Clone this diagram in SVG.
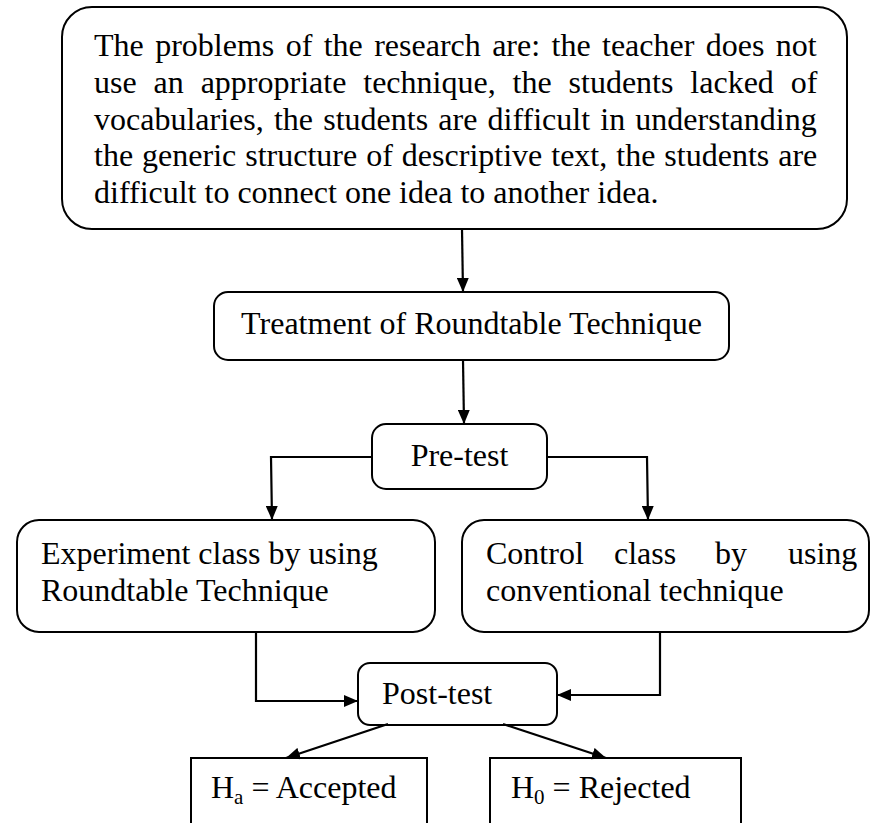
<svg xmlns="http://www.w3.org/2000/svg" width="870" height="823" viewBox="0 0 870 823">
<defs>
<style>
.box{fill:#fff;stroke:#000;stroke-width:2}
.t{font-family:"Liberation Serif","Times New Roman",serif;font-size:32px;fill:#000}
.c{fill:none;stroke:#000;stroke-width:2.2}
.sub{font-size:21px}
</style>
<marker id="ah" viewBox="0 0 14 12" refX="14" refY="6" markerWidth="14" markerHeight="12" orient="auto" markerUnits="userSpaceOnUse">
<path d="M0,0 L14,6 L0,12 z" fill="#000"/>
</marker>
</defs>
<rect width="870" height="823" fill="#fff"/>
<g id="problems">
<rect class="box" x="62" y="7" width="785" height="222" rx="30" ry="30"/>
<text class="t" x="94" y="56" word-spacing="3.4">The problems of the research are: the teacher does not</text>
<text class="t" x="94" y="93" word-spacing="8.9">use an appropriate technique, the students lacked of</text>
<text class="t" x="94" y="130" word-spacing="2.2">vocabularies, the students are difficult in understanding</text>
<text class="t" x="94" y="166" word-spacing="1">the generic structure of descriptive text, the students are</text>
<text class="t" x="94" y="203">difficult to connect one idea to another idea.</text>
</g>
<g id="treatment">
<rect class="box" x="214" y="292" width="515" height="68" rx="14" ry="14"/>
<text class="t" x="471.5" y="334" text-anchor="middle">Treatment of Roundtable Technique</text>
</g>
<g id="pretest">
<rect class="box" x="372" y="424" width="175" height="65" rx="14" ry="14"/>
<text class="t" x="459.5" y="466" text-anchor="middle">Pre-test</text>
</g>
<g id="experiment">
<rect class="box" x="17" y="520" width="418" height="112" rx="22" ry="22"/>
<text class="t" x="41" y="564">Experiment class by using</text>
<text class="t" x="41" y="601">Roundtable Technique</text>
</g>
<g id="control">
<rect class="box" x="462" y="520" width="407" height="112" rx="22" ry="22"/>
<text class="t" x="486" y="564"><tspan x="486">Control</tspan><tspan x="614">class</tspan><tspan x="715">by</tspan><tspan x="788">using</tspan></text>
<text class="t" x="486" y="601">conventional technique</text>
</g>
<g id="posttest">
<rect class="box" x="358" y="663" width="199" height="62" rx="12" ry="12"/>
<text class="t" x="382" y="704">Post-test</text>
</g>
<g id="ha">
<rect class="box" x="191" y="758" width="236" height="80"/>
<text class="t" x="211" y="798">H<tspan class="sub" dy="6">a</tspan><tspan dy="-6"> = Accepted</tspan></text>
</g>
<g id="h0">
<rect class="box" x="490" y="758" width="251" height="80"/>
<text class="t" x="511" y="798">H<tspan class="sub" dy="6">0</tspan><tspan dy="-6"> = Rejected</tspan></text>
</g>
<g id="connectors">
<path class="c" d="M462,229 L463,292" marker-end="url(#ah)"/>
<path class="c" d="M463,360 L464,424" marker-end="url(#ah)"/>
<path class="c" d="M372,457 L271,457 L272,520" marker-end="url(#ah)"/>
<path class="c" d="M547,457 L647,457 L648,520" marker-end="url(#ah)"/>
<path class="c" d="M256,632 L256,701 L358,701" marker-end="url(#ah)"/>
<path class="c" d="M660,632 L660,695 L557,695" marker-end="url(#ah)"/>
<path class="c" d="M388,724 L286,758" marker-end="url(#ah)"/>
<path class="c" d="M503,724 L606,758" marker-end="url(#ah)"/>
</g>
</svg>
